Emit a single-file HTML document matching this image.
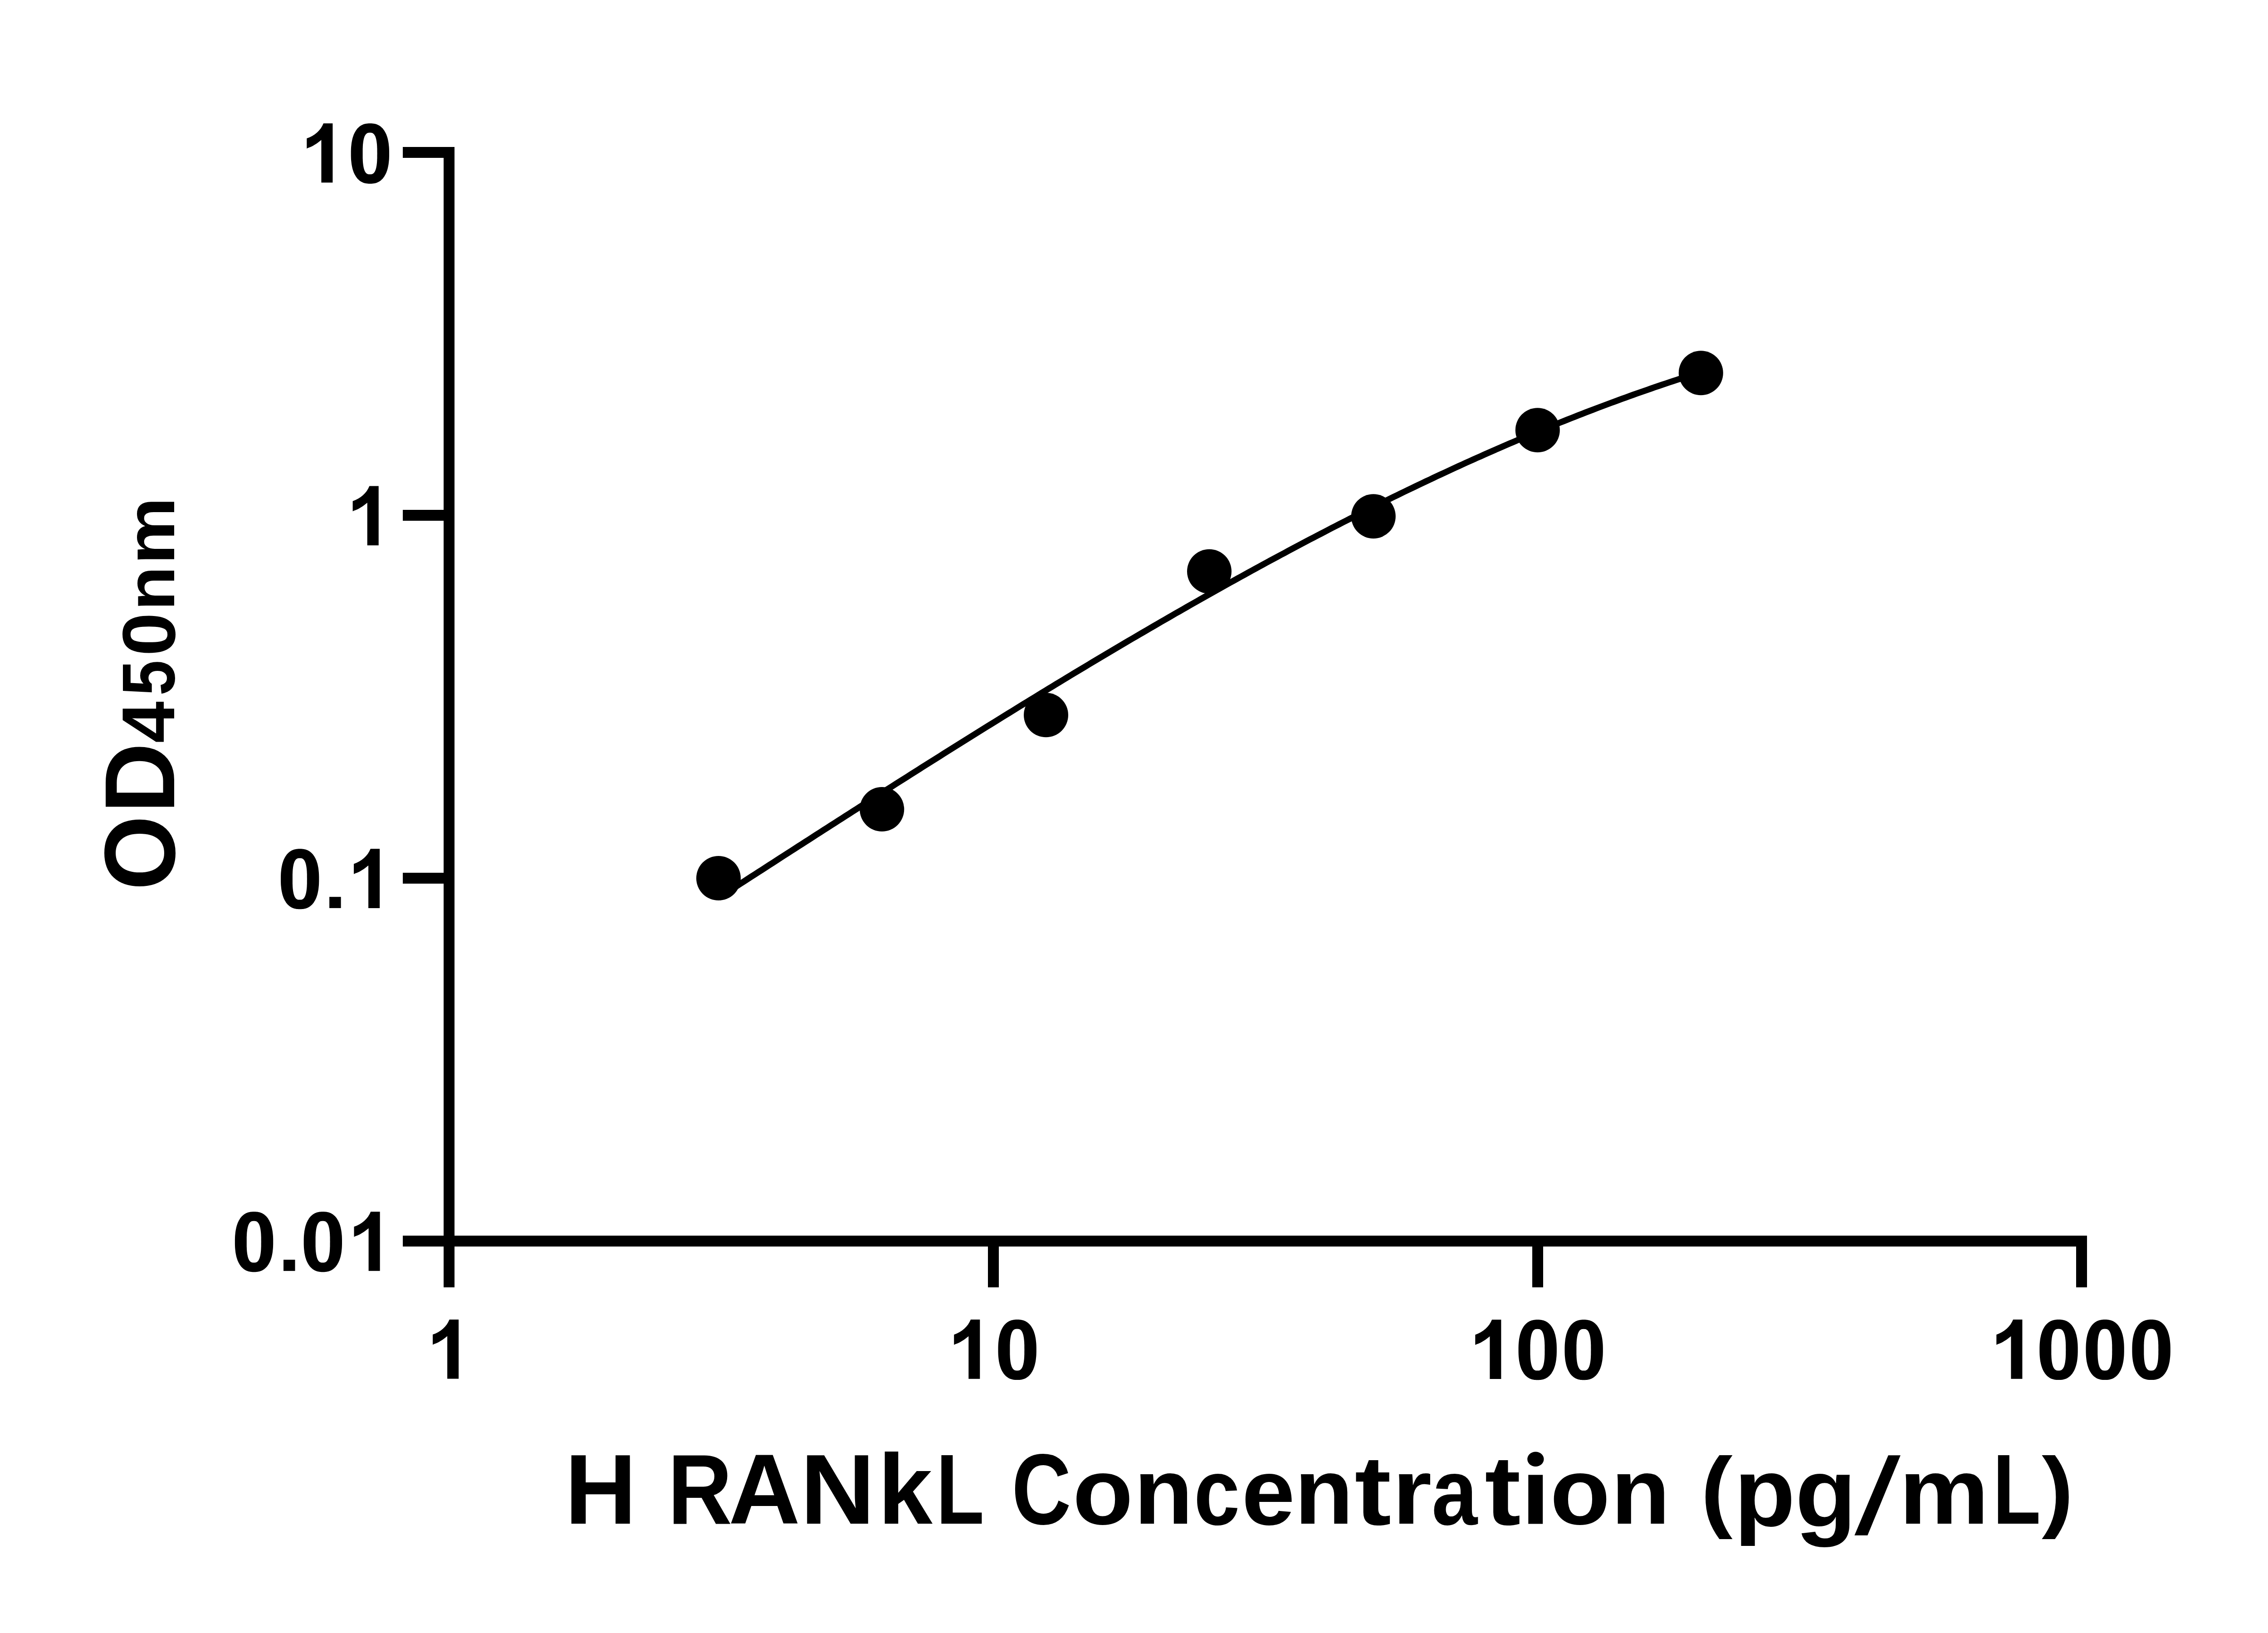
<!DOCTYPE html>
<html><head><meta charset="utf-8"><style>
html,body{margin:0;padding:0;background:#fff;width:5142px;height:3600px;overflow:hidden}
svg{position:absolute;left:0;top:0;display:block}
text{font-family:"Liberation Sans",sans-serif;font-weight:bold;font-size:220px;fill:#000}
</style></head><body>
<svg width="5142" height="3600" viewBox="0 0 5142 3600">
<rect width="5142" height="3600" fill="#fff"/>
<g fill="#000">
<rect x="978" y="324" width="24" height="2424"/>
<rect x="888" y="324" width="114" height="24"/>
<rect x="888" y="1124" width="114" height="24"/>
<rect x="888" y="1924" width="114" height="24"/>
<rect x="888" y="2724" width="3713" height="24"/>
<rect x="978" y="2724" width="24" height="114"/>
<rect x="2178" y="2724" width="24" height="114"/>
<rect x="3378" y="2724" width="24" height="114"/>
<rect x="4577" y="2724" width="24" height="114"/>
</g>
<path d="M1584 1979.3L1592 1974.2L1600 1969L1608 1963.8L1616 1958.7L1624 1953.5L1632 1948.3L1640 1943.2L1648 1938L1656 1932.8L1664 1927.7L1672 1922.5L1680 1917.4L1688 1912.2L1696 1907L1704 1901.9L1712 1896.7L1720 1891.6L1728 1886.4L1736 1881.3L1744 1876.1L1752 1871L1760 1865.8L1768 1860.7L1776 1855.5L1784 1850.4L1792 1845.2L1800 1840.1L1808 1835L1816 1829.8L1824 1824.7L1832 1819.5L1840 1814.4L1848 1809.3L1856 1804.2L1864 1799L1872 1793.9L1880 1788.8L1888 1783.7L1896 1778.6L1904 1773.5L1912 1768.3L1920 1763.2L1928 1758.1L1936 1753L1944 1747.9L1952 1742.8L1960 1737.8L1968 1732.7L1976 1727.6L1984 1722.5L1992 1717.4L2000 1712.4L2008 1707.3L2016 1702.2L2024 1697.2L2032 1692.1L2040 1687.1L2048 1682L2056 1677L2064 1671.9L2072 1666.9L2080 1661.8L2088 1656.8L2096 1651.8L2104 1646.8L2112 1641.8L2120 1636.8L2128 1631.8L2136 1626.8L2144 1621.8L2152 1616.8L2160 1611.8L2168 1606.8L2176 1601.8L2184 1596.9L2192 1591.9L2200 1586.9L2208 1582L2216 1577L2224 1572.1L2232 1567.2L2240 1562.2L2248 1557.3L2256 1552.4L2264 1547.5L2272 1542.6L2280 1537.7L2288 1532.8L2296 1527.9L2304 1523L2312 1518.1L2320 1513.3L2328 1508.4L2336 1503.6L2344 1498.7L2352 1493.9L2360 1489L2368 1484.2L2376 1479.4L2384 1474.6L2392 1469.8L2400 1465L2408 1460.2L2416 1455.4L2424 1450.6L2432 1445.9L2440 1441.1L2448 1436.4L2456 1431.6L2464 1426.9L2472 1422.2L2480 1417.4L2488 1412.7L2496 1408L2504 1403.3L2512 1398.6L2520 1394L2528 1389.3L2536 1384.6L2544 1380L2552 1375.3L2560 1370.7L2568 1366.1L2576 1361.5L2584 1356.8L2592 1352.2L2600 1347.7L2608 1343.1L2616 1338.5L2624 1333.9L2632 1329.4L2640 1324.8L2648 1320.3L2656 1315.8L2664 1311.3L2672 1306.8L2680 1302.3L2688 1297.8L2696 1293.3L2704 1288.9L2712 1284.4L2720 1280L2728 1275.5L2736 1271.1L2744 1266.7L2752 1262.3L2760 1257.9L2768 1253.5L2776 1249.1L2784 1244.8L2792 1240.4L2800 1236.1L2808 1231.8L2816 1227.5L2824 1223.1L2832 1218.9L2840 1214.6L2848 1210.3L2856 1206L2864 1201.8L2872 1197.6L2880 1193.3L2888 1189.1L2896 1184.9L2904 1180.7L2912 1176.6L2920 1172.4L2928 1168.3L2936 1164.1L2944 1160L2952 1155.9L2960 1151.8L2968 1147.7L2976 1143.6L2984 1139.5L2992 1135.5L3000 1131.5L3008 1127.4L3016 1123.4L3024 1119.4L3032 1115.4L3040 1111.5L3048 1107.5L3056 1103.5L3064 1099.6L3072 1095.7L3080 1091.8L3088 1087.9L3096 1084L3104 1080.2L3112 1076.3L3120 1072.5L3128 1068.6L3136 1064.8L3144 1061L3152 1057.3L3160 1053.5L3168 1049.7L3176 1046L3184 1042.3L3192 1038.6L3200 1034.9L3208 1031.2L3216 1027.5L3224 1023.9L3232 1020.2L3240 1016.6L3248 1013L3256 1009.4L3264 1005.9L3272 1002.3L3280 998.8L3288 995.2L3296 991.7L3304 988.2L3312 984.7L3320 981.3L3328 977.8L3336 974.4L3344 971L3352 967.6L3360 964.2L3368 960.8L3376 957.5L3384 954.1L3392 950.8L3400 947.5L3408 944.2L3416 941L3424 937.7L3432 934.5L3440 931.3L3448 928.1L3456 924.9L3464 921.7L3472 918.6L3480 915.4L3488 912.3L3496 909.2L3504 906.1L3512 903.1L3520 900L3528 897L3536 894L3544 891L3552 888L3560 885.1L3568 882.1L3576 879.2L3584 876.3L3592 873.4L3600 870.5L3608 867.7L3616 864.9L3624 862.1L3632 859.3L3640 856.5L3648 853.7L3656 851L3664 848.3L3672 845.6L3680 842.9L3688 840.3L3696 837.6L3704 835L3712 832.4L3720 829.8L3728 827.2L3736 824.7L3744 822.2L3750 820.3" fill="none" stroke="#000" stroke-width="13.6" stroke-linejoin="round"/>
<g fill="#000">
<circle cx="1584" cy="1936" r="49"/><circle cx="1944.3" cy="1784.1" r="49"/><circle cx="2306" cy="1576.3" r="49"/><circle cx="2666" cy="1259.7" r="49"/><circle cx="3027.8" cy="1138.2" r="49"/><circle cx="3389.8" cy="948.2" r="49"/><circle cx="3749.8" cy="822.2" r="49"/>
</g>
<defs><path id="g1" d="M0 0L0 -130.6L-20.3 -130.6C-26.3 -115.2 -40 -103 -57.1 -97.5L-57.1 -74.9C-52.2 -77.8 -44.1 -78.2 -25 -94L-25 0Z"/><path id="g0" d="M84.3 -64.1L84.3 -59.5L84.2 -55.9L84.1 -52.7L83.9 -49.7L83.6 -46.8L83.3 -44L83 -41.4L82.6 -38.8L82.1 -36.3L81.6 -33.9L81.1 -31.6L80.5 -29.4L79.8 -27.2L79.1 -25.1L78.4 -23.1L77.6 -21.2L76.7 -19.3L75.8 -17.5L74.8 -15.8L73.8 -14.1L72.8 -12.5L71.7 -11L70.6 -9.6L69.4 -8.2L68.1 -7L66.9 -5.8L65.5 -4.7L64.2 -3.6L62.7 -2.7L61.3 -1.8L59.8 -1L58.2 -0.3L56.6 0.3L54.9 0.9L53.1 1.3L51.3 1.7L49.4 2L47.3 2.2L45.1 2.4L42.2 2.4L39.2 2.4L37 2.2L34.9 2L33 1.7L31.2 1.3L29.4 0.9L27.7 0.3L26.1 -0.3L24.5 -1L23 -1.8L21.6 -2.7L20.1 -3.6L18.8 -4.7L17.4 -5.8L16.2 -7L14.9 -8.2L13.7 -9.6L12.6 -11L11.5 -12.5L10.5 -14.1L9.5 -15.8L8.5 -17.5L7.6 -19.3L6.7 -21.2L5.9 -23.1L5.2 -25.1L4.5 -27.2L3.8 -29.4L3.2 -31.6L2.7 -33.9L2.2 -36.3L1.7 -38.8L1.3 -41.4L1 -44L0.7 -46.8L0.4 -49.7L0.2 -52.7L0.1 -55.9L0 -59.5L0 -64.1L0 -68.7L0.1 -72.3L0.2 -75.5L0.4 -78.5L0.7 -81.4L1 -84.2L1.3 -86.8L1.7 -89.4L2.2 -91.9L2.7 -94.3L3.2 -96.6L3.8 -98.8L4.5 -101L5.2 -103.1L5.9 -105.1L6.7 -107L7.6 -108.9L8.5 -110.7L9.5 -112.4L10.5 -114.1L11.5 -115.7L12.6 -117.2L13.7 -118.6L14.9 -120L16.2 -121.2L17.4 -122.4L18.8 -123.5L20.1 -124.6L21.6 -125.5L23 -126.4L24.5 -127.2L26.1 -127.9L27.7 -128.5L29.4 -129.1L31.2 -129.5L33 -129.9L34.9 -130.2L37 -130.4L39.2 -130.6L42.1 -130.6L45.1 -130.6L47.3 -130.4L49.4 -130.2L51.3 -129.9L53.1 -129.5L54.9 -129.1L56.6 -128.5L58.2 -127.9L59.8 -127.2L61.3 -126.4L62.7 -125.5L64.2 -124.6L65.5 -123.5L66.9 -122.4L68.1 -121.2L69.4 -120L70.6 -118.6L71.7 -117.2L72.8 -115.7L73.8 -114.1L74.8 -112.4L75.8 -110.7L76.7 -108.9L77.6 -107L78.4 -105.1L79.1 -103.1L79.8 -101L80.5 -98.8L81.1 -96.6L81.6 -94.3L82.1 -91.9L82.6 -89.4L83 -86.8L83.3 -84.2L83.6 -81.4L83.9 -78.5L84.1 -75.5L84.2 -72.3L84.3 -68.7ZM57.9 -64.2L57.8 -60.3L57.8 -57.8L57.8 -55.7L57.8 -53.7L57.7 -52L57.6 -50.3L57.6 -48.7L57.5 -47.2L57.4 -45.7L57.3 -44.3L57.2 -43L57 -41.7L56.9 -40.4L56.7 -39.2L56.6 -38L56.4 -36.9L56.2 -35.8L56 -34.8L55.8 -33.7L55.6 -32.7L55.4 -31.8L55.1 -30.9L54.9 -30L54.6 -29.1L54.3 -28.3L54.1 -27.5L53.8 -26.8L53.4 -26L53.1 -25.4L52.8 -24.7L52.5 -24.1L52.1 -23.5L51.7 -22.9L51.3 -22.4L51 -21.9L50.5 -21.4L50.1 -21L49.7 -20.6L49.2 -20.2L48.8 -19.9L48.3 -19.6L47.8 -19.3L47.2 -19L46.7 -18.8L46.1 -18.7L45.5 -18.5L44.8 -18.4L44.1 -18.3L43.2 -18.3L41.8 -18.3L40.5 -18.3L39.6 -18.3L38.9 -18.4L38.2 -18.5L37.6 -18.7L37 -18.8L36.5 -19L35.9 -19.3L35.4 -19.6L34.9 -19.9L34.5 -20.2L34 -20.6L33.6 -21L33.2 -21.4L32.7 -21.9L32.4 -22.4L32 -22.9L31.6 -23.5L31.2 -24.1L30.9 -24.7L30.6 -25.4L30.3 -26L29.9 -26.8L29.6 -27.5L29.4 -28.3L29.1 -29.1L28.8 -30L28.6 -30.9L28.3 -31.8L28.1 -32.7L27.9 -33.7L27.7 -34.8L27.5 -35.8L27.3 -36.9L27.1 -38L27 -39.2L26.8 -40.4L26.7 -41.7L26.5 -43L26.4 -44.3L26.3 -45.7L26.2 -47.2L26.1 -48.7L26.1 -50.3L26 -52L25.9 -53.7L25.9 -55.7L25.9 -57.8L25.9 -60.3L25.9 -64.2L25.9 -68L25.9 -70.5L25.9 -72.6L25.9 -74.6L26 -76.3L26.1 -78L26.1 -79.6L26.2 -81.1L26.3 -82.6L26.4 -84L26.5 -85.3L26.7 -86.6L26.8 -87.9L27 -89.1L27.1 -90.3L27.3 -91.4L27.5 -92.5L27.7 -93.5L27.9 -94.6L28.1 -95.6L28.3 -96.5L28.6 -97.4L28.8 -98.3L29.1 -99.2L29.4 -100L29.6 -100.8L29.9 -101.5L30.3 -102.3L30.6 -102.9L30.9 -103.6L31.2 -104.2L31.6 -104.8L32 -105.4L32.4 -105.9L32.7 -106.4L33.2 -106.9L33.6 -107.3L34 -107.7L34.5 -108.1L34.9 -108.4L35.4 -108.7L35.9 -109L36.5 -109.3L37 -109.5L37.6 -109.6L38.2 -109.8L38.9 -109.9L39.6 -110L40.5 -110L41.8 -110.1L43.2 -110L44.1 -110L44.8 -109.9L45.5 -109.8L46.1 -109.6L46.7 -109.5L47.2 -109.3L47.8 -109L48.3 -108.7L48.8 -108.4L49.2 -108.1L49.7 -107.7L50.1 -107.3L50.5 -106.9L51 -106.4L51.3 -105.9L51.7 -105.4L52.1 -104.8L52.5 -104.2L52.8 -103.6L53.1 -102.9L53.4 -102.3L53.8 -101.5L54.1 -100.8L54.3 -100L54.6 -99.2L54.9 -98.3L55.1 -97.4L55.4 -96.5L55.6 -95.6L55.8 -94.6L56 -93.5L56.2 -92.5L56.4 -91.4L56.6 -90.3L56.7 -89.1L56.9 -87.9L57 -86.6L57.2 -85.3L57.3 -84L57.4 -82.6L57.5 -81.1L57.6 -79.6L57.6 -78L57.7 -76.3L57.8 -74.6L57.8 -72.6L57.8 -70.5L57.8 -68Z" fill-rule="evenodd"/><path id="gd" d="M0 0h25.5v-24.7h-25.5Z"/></defs>
<g fill="#000"><use href="#g1" x="733.4" y="402.6"/><use href="#g0" x="773.7" y="402.6"/><use href="#g1" x="834.7" y="1202.2"/><use href="#g0" x="619" y="2001.9"/><use href="#gd" x="726.1" y="2001.9"/><use href="#g1" x="837.1" y="2001.9"/><use href="#g0" x="517.9" y="2801.8"/><use href="#gd" x="625" y="2801.8"/><use href="#g0" x="669.7" y="2801.8"/><use href="#g1" x="837.6" y="2801.8"/><use href="#g1" x="1011.1" y="3039.6"/><use href="#g1" x="2160.3" y="3039.7"/><use href="#g0" x="2200.5" y="3039.7"/><use href="#g1" x="3309.4" y="3039.9"/><use href="#g0" x="3347.6" y="3039.9"/><use href="#g0" x="3449.5" y="3039.9"/><use href="#g1" x="4458.4" y="3039.7"/><use href="#g0" x="4496.4" y="3039.7"/><use href="#g0" x="4598.5" y="3039.7"/><use href="#g0" x="4700.5" y="3039.7"/></g>
<text transform="matrix(0.9965 0 0 0.9974 1245.00 3359.40)">H</text><text transform="matrix(0.8953 0 0 0.9974 1471.99 3359.40)">R</text><text transform="matrix(0.9959 0 0 0.9974 1605.92 3359.40)">A</text><text transform="matrix(1.0406 0 0 0.9974 1763.95 3359.40)">N</text><text transform="matrix(0.9818 0 0 1.0000 1935.43 3359.40)">k</text><text transform="matrix(0.7885 0 0 0.9974 2063.67 3359.40)">L</text><text transform="matrix(0.8237 0 0 1.0067 2230.39 3360.23)">C</text><text transform="matrix(0.9919 0 0 0.9436 2364.77 3360.38)">o</text><text transform="matrix(0.9685 0 0 0.9333 2500.06 3359.40)">n</text><text transform="matrix(0.8280 0 0 0.9455 2631.96 3360.61)">c</text><text transform="matrix(0.9591 0 0 0.9455 2737.55 3360.61)">e</text><text transform="matrix(0.9638 0 0 0.9333 2854.03 3359.40)">n</text><text transform="matrix(1.0996 0 0 0.9842 2986.48 3360.53)">t</text><text transform="matrix(1.0140 0 0 0.9333 3069.40 3359.40)">r</text><text transform="matrix(0.8247 0 0 0.9455 3156.34 3360.61)">a</text><text transform="matrix(1.0834 0 0 0.9842 3273.32 3360.53)">t</text><text transform="matrix(0.9851 0 0 0.9436 3417.13 3360.38)">o</text><text transform="matrix(0.9666 0 0 0.9333 3551.78 3359.40)">n</text><text transform="matrix(0.9565 0 0 0.9038 3749.38 3352.45)">(</text><text transform="matrix(1.0032 0 0 0.9739 3822.95 3364.45)">p</text><text transform="matrix(1.0032 0 0 0.9770 3957.87 3364.57)">g</text><text transform="matrix(1.0125 0 0 0.9333 4186.82 3359.40)">m</text><text transform="matrix(0.7876 0 0 0.9974 4393.18 3359.40)">L</text><text transform="matrix(0.9548 0 0 0.9038 4501.16 3352.45)">)</text><path d="M4162.9 3208.3H4189.8L4117.2 3384.7H4088.4Z"/><rect x="3369.3" y="3251.4" width="31.9" height="108"/><ellipse cx="3385.35" cy="3216.8" rx="18.15" ry="16.3"/><text transform="matrix(0 -0.9634 1.0009 0 384.85 1962.77)">O</text><text transform="matrix(0 -0.9785 0.9980 0 384.40 1792.93)">D</text><text transform="matrix(0 -0.7500 0.7505 0 384.40 1637.94)">4</text><text transform="matrix(0 -0.6384 0.7473 0 384.32 1533.51)">5</text><text transform="matrix(0 -0.7828 0.7518 0 384.80 1446.25)">0</text><text transform="matrix(0 -0.7304 0.6861 0 384.30 1346.29)">n</text><text transform="matrix(0 -0.7594 0.6928 0 384.30 1244.51)">m</text>
</svg>
</body></html>
